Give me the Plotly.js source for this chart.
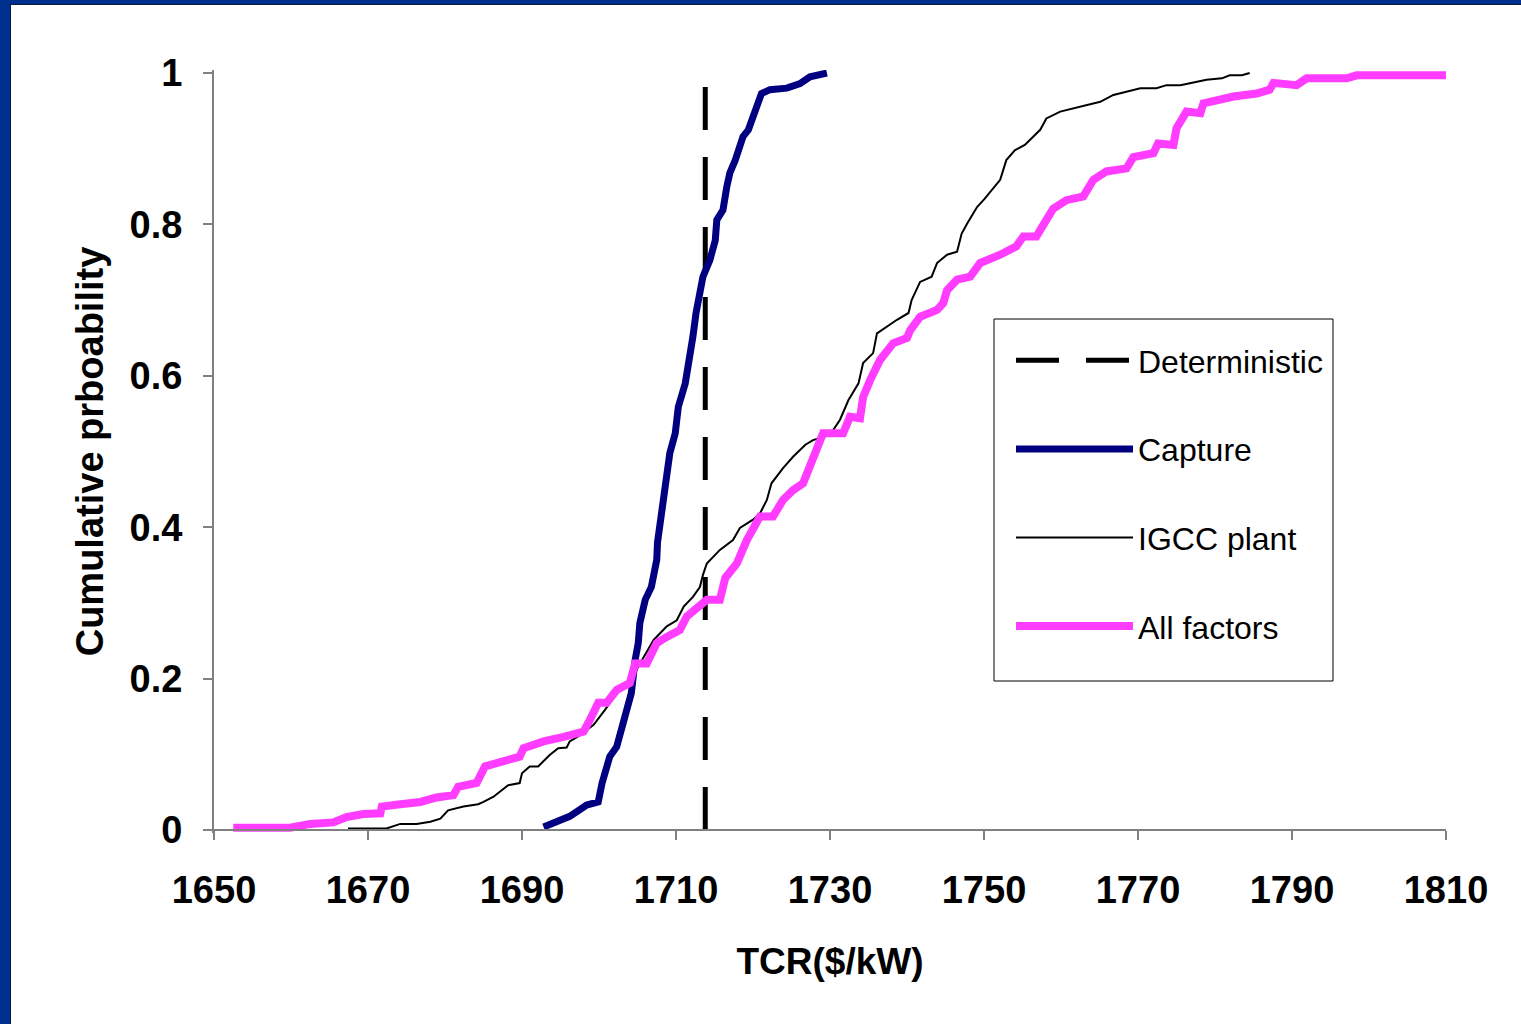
<!DOCTYPE html>
<html>
<head>
<meta charset="utf-8">
<script src="https://cdn.plot.ly/plotly-3.0.1.min.js"></script>
<style>
  html, body { margin: 0; padding: 0; background: #00308f; width: 1521px; height: 1024px; overflow: hidden; }
  #plot { position: absolute; left: 10px; top: 4px; width: 1510px; height: 1019px; background: #fff;
          border-left: 1px solid #0b1a3a; border-top: 1px solid #0b1a3a; }
</style>
</head>
<body>
<div id="plot"></div>
<script>
// ---- data ----
const seriesNames = ["Deterministic", "Capture", "IGCC plant", "All factors"];

const deterministicX = [1713.8, 1713.8];
const deterministicY = [0, 0.985];

const captureX = [1692.8, 1696.2, 1698.4, 1699.9, 1700.4, 1701.4, 1702.3, 1703.6, 1704.2, 1704.7,
                  1705.1, 1705.3, 1706.0, 1706.8, 1707.5, 1707.6, 1708.4, 1708.8, 1709.2, 1709.9,
                  1710.3, 1711.2, 1711.8, 1712.2, 1712.6, 1713.0, 1713.5, 1714.4, 1715.1, 1715.3,
                  1716.1, 1716.6, 1717.0, 1717.7, 1718.1, 1718.7, 1719.4, 1720.0, 1720.5, 1721.1,
                  1722.2, 1724.4, 1726.1, 1727.4, 1729.6];
const captureY = [0.004, 0.018, 0.033, 0.037, 0.062, 0.097, 0.110, 0.159, 0.181, 0.225,
                  0.247, 0.273, 0.304, 0.321, 0.357, 0.380, 0.432, 0.462, 0.498, 0.524,
                  0.559, 0.590, 0.621, 0.652, 0.683, 0.705, 0.731, 0.753, 0.779, 0.806,
                  0.819, 0.850, 0.868, 0.885, 0.901, 0.916, 0.925, 0.942, 0.960, 0.973,
                  0.978, 0.980, 0.986, 0.995, 1.000];

const igccX = [1667.4, 1672.4, 1674.2, 1676.3, 1678.1, 1679.4, 1680.4, 1682.4, 1684.3, 1685.0,
               1686.3, 1687.6, 1688.2, 1689.7, 1690.0, 1691.0, 1692.1, 1693.6, 1694.7, 1695.8,
               1696.2, 1697.5, 1699.3, 1700.8, 1702.7, 1704.0, 1705.1, 1707.1, 1708.8, 1710.1,
               1711.0, 1712.2, 1713.1, 1713.5, 1714.0, 1715.7, 1717.4, 1718.3, 1720.0, 1720.9,
               1721.8, 1722.4, 1723.9, 1725.2, 1726.8, 1727.8, 1730.0, 1731.3, 1732.4, 1733.7,
               1734.3, 1735.6, 1736.1, 1738.7, 1740.2, 1740.6, 1741.7, 1743.2, 1743.9, 1745.2,
               1746.5, 1747.1, 1747.8, 1749.1, 1750.1, 1752.1, 1752.9, 1754.0, 1755.3, 1757.3,
               1758.1, 1759.9, 1762.5, 1765.1, 1766.8, 1768.5, 1770.3, 1772.4, 1773.7, 1775.5,
               1778.9, 1780.9, 1781.9, 1783.5, 1784.5];
const igccY = [0.002, 0.002, 0.008, 0.008, 0.011, 0.015, 0.026, 0.031, 0.034, 0.037,
               0.044, 0.055, 0.059, 0.062, 0.075, 0.084, 0.084, 0.099, 0.108, 0.109,
               0.117, 0.125, 0.139, 0.159, 0.187, 0.194, 0.216, 0.251, 0.269, 0.277,
               0.295, 0.308, 0.321, 0.337, 0.352, 0.370, 0.383, 0.399, 0.410, 0.418,
               0.436, 0.458, 0.478, 0.493, 0.509, 0.515, 0.522, 0.542, 0.568, 0.590,
               0.617, 0.630, 0.656, 0.674, 0.683, 0.700, 0.724, 0.731, 0.749, 0.760,
               0.764, 0.788, 0.801, 0.823, 0.834, 0.859, 0.885, 0.898, 0.905, 0.925,
               0.940, 0.949, 0.955, 0.962, 0.971, 0.975, 0.980, 0.980, 0.984, 0.984,
               0.991, 0.993, 0.997, 0.997, 1.000];

const allX = [1652.5, 1659.9, 1662.5, 1665.5, 1667.2, 1669.4, 1671.6, 1671.8, 1674.2, 1676.8,
              1678.9, 1681.1, 1681.7, 1684.1, 1685.2, 1687.1, 1689.7, 1690.2, 1692.8, 1695.4,
              1698.0, 1698.8, 1699.9, 1701.0, 1702.3, 1704.0, 1704.7, 1706.2, 1707.5, 1708.8,
              1710.5, 1711.4, 1713.1, 1714.0, 1715.7, 1716.4, 1717.9, 1719.2, 1720.9, 1722.6,
              1723.9, 1725.2, 1726.5, 1727.8, 1728.7, 1729.1, 1731.7, 1732.6, 1733.9, 1734.3,
              1735.2, 1736.5, 1738.2, 1740.0, 1740.4, 1741.7, 1743.9, 1744.7, 1745.2, 1746.5,
              1748.2, 1749.5, 1752.1, 1754.2, 1755.1, 1756.8, 1758.1, 1759.0, 1760.7, 1762.9,
              1764.2, 1765.9, 1768.5, 1769.4, 1772.0, 1772.6, 1774.6, 1775.0, 1776.3, 1778.1,
              1778.5, 1780.6, 1782.4, 1785.4, 1787.1, 1787.6, 1790.6, 1791.9, 1797.1, 1798.4,
              1810.0];
const allY = [0.003, 0.003, 0.008, 0.010, 0.017, 0.021, 0.022, 0.031, 0.034, 0.037,
              0.043, 0.046, 0.057, 0.062, 0.084, 0.090, 0.097, 0.108, 0.117, 0.123,
              0.130, 0.145, 0.168, 0.168, 0.185, 0.194, 0.220, 0.220, 0.247, 0.255,
              0.264, 0.282, 0.295, 0.304, 0.304, 0.333, 0.352, 0.383, 0.414, 0.414,
              0.436, 0.449, 0.458, 0.489, 0.511, 0.524, 0.524, 0.546, 0.544, 0.572,
              0.594, 0.621, 0.643, 0.650, 0.660, 0.678, 0.687, 0.696, 0.713, 0.727,
              0.731, 0.749, 0.760, 0.771, 0.784, 0.784, 0.806, 0.821, 0.832, 0.837,
              0.859, 0.870, 0.874, 0.889, 0.894, 0.907, 0.905, 0.927, 0.949, 0.947,
              0.960, 0.965, 0.969, 0.973, 0.978, 0.987, 0.984, 0.993, 0.993, 0.997,
              0.997];

const xTickVals = [1650, 1670, 1690, 1710, 1730, 1750, 1770, 1790, 1810];
const yTickVals = [0, 0.2, 0.4, 0.6, 0.8, 1];
const xTitle = "TCR($/kW)";
const yTitle = "Cumulative prboability";

// ---- traces ----
const traces = [
  { x: deterministicX, y: deterministicY, name: seriesNames[0], mode: "lines", legendgroup: "g1",
    line: { color: "#000000", width: 5, dash: "43px,27px" } },
  { x: captureX, y: captureY, name: seriesNames[1], mode: "lines", legendgroup: "g2",
    line: { color: "#000080", width: 7 } },
  { x: igccX, y: igccY, name: seriesNames[2], mode: "lines", legendgroup: "g3",
    line: { color: "#000000", width: 2 } },
  { x: allX, y: allY, name: seriesNames[3], mode: "lines", legendgroup: "g4",
    line: { color: "#ff3cff", width: 8 } }
];

const tickFont = { family: "Liberation Sans, Arial, sans-serif", size: 38, color: "#000", weight: "bold" };
const titleFont = { family: "Liberation Sans, Arial, sans-serif", size: 37, color: "#000", weight: "bold" };

// plot-area pixel frame used to place the legend box (y range -0.004..1.004 over 763 px)
const px2x = p => (p - 214) / 1232;
const px2y = p => (833 - p) / 763;

const layout = {
  width: 1510, height: 1019,
  paper_bgcolor: "#ffffff", plot_bgcolor: "#ffffff",
  margin: { l: 203, r: 75, t: 65, b: 191, pad: 0 },
  showlegend: true,
  hovermode: false,
  xaxis: {
    range: [1650, 1810], tickvals: xTickVals, ticktext: xTickVals.map(String),
    showgrid: false, zeroline: false, showline: true, linecolor: "#808080", linewidth: 2,
    ticks: "outside", ticklen: 9, tickcolor: "#808080", tickwidth: 2,
    tickfont: tickFont, ticklabelstandoff: 17,
    anchor: "free", position: 0.004 / 1.008,
    title: { text: xTitle, font: titleFont, standoff: 38 }
  },
  yaxis: {
    range: [-0.004, 1.004], tickvals: yTickVals, ticktext: ["0", "0.2", "0.4", "0.6", "0.8", "1"],
    showgrid: false, zeroline: false, showline: true, linecolor: "#808080", linewidth: 2,
    ticks: "outside", ticklen: 9, tickcolor: "#808080", tickwidth: 2,
    tickfont: tickFont, ticklabelstandoff: 13,
    title: { text: yTitle, font: { ...titleFont, size: 38 }, standoff: 14 }
  },
  shapes: [
    { type: "rect", xref: "paper", yref: "paper", layer: "above",
      x0: px2x(994), x1: px2x(1333), y0: px2y(681), y1: px2y(319),
      line: { color: "#000000", width: 1 }, fillcolor: "#ffffff" }
  ],
  legend: {
    x: px2x(1011), y: px2y(333), xanchor: "left", yanchor: "top",
    bgcolor: "rgba(0,0,0,0)", borderwidth: 0,
    font: { family: "Liberation Sans, Arial, sans-serif", size: 32, color: "#000" },
    itemwidth: 117, traceorder: "grouped", tracegroupgap: 44
  }
};

Plotly.newPlot("plot", traces, layout, { displayModeBar: false, staticPlot: true });
</script>
</body>
</html>
